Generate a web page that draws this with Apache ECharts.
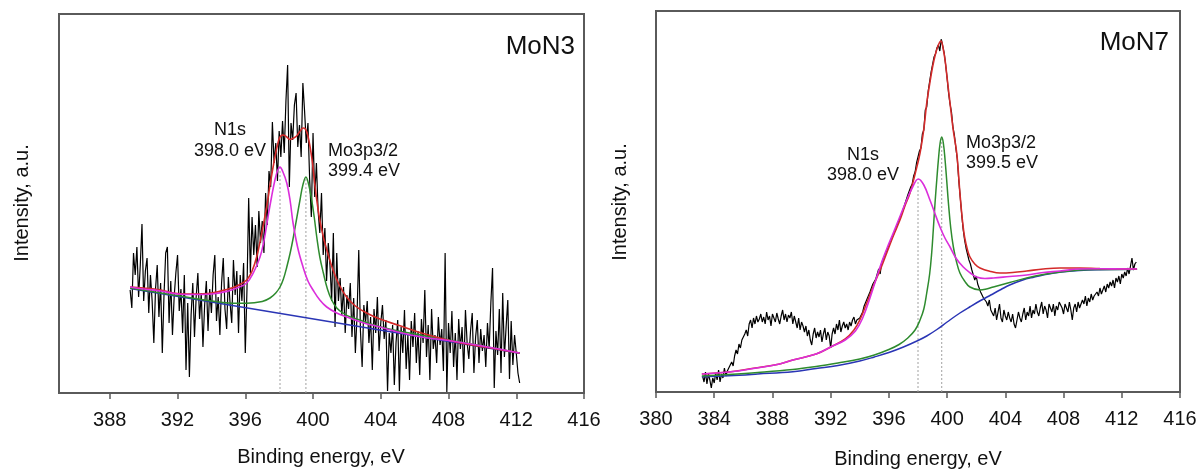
<!DOCTYPE html>
<html>
<head>
<meta charset="utf-8">
<script src="https://cdn.jsdelivr.net/npm/echarts@6/dist/echarts.min.js"></script>
<style>html,body{margin:0;padding:0;background:#fff}#c{width:1203px;height:472px}</style>
</head>
<body>
<div id="c"></div>
<script>
// ---------- MoN3 (left panel) ----------
const mon3Start = 389.2, mon3Step = 0.1;
const mon3Raw = [
103, 85, 140, 118, 146, 96, 128, 169, 92, 122,
135, 80, 118, 92, 50, 104, 128, 76, 110, 40,
98, 140, 146, 70, 112, 58, 96, 120, 138, 82,
104, 60, 118, 23, 90, 16, 78, 110, 56, 96,
120, 74, 100, 46, 88, 112, 62, 104, 80, 118,
138, 72, 96, 58, 110, 135, 84, 64, 116, 90,
70, 133, 98, 122, 60, 118, 92, 130, 40, 104,
195, 120, 176, 138, 168, 126, 182, 150, 172, 140,
200, 168, 222, 206, 271, 230, 250, 212, 262, 236,
272, 240, 292, 328, 206, 270, 253, 288, 300, 246,
268, 236, 310, 282, 250, 270, 214, 176, 260, 196,
230, 182, 160, 200, 138, 165, 112, 150, 128, 92,
160, 66, 140, 92, 115, 78, 106, 60, 98, 84,
110, 56, 95, 40, 78, 143, 62, 26, 88, 70,
92, 50, 76, 23, 84, 60, 96, 42, 70, 88,
54, 73, 2, 60, 40, 68, 8, 50, 73, 2,
66, 40, 83, 24, 58, 13, 72, 46, 80, 30,
62, 18, 74, 50, 103, 36, 68, 13, 84, 44,
58, 30, 76, 48, 64, 22, 140, 1, 70, 40,
82, 26, 60, 13, 74, 44, 66, 20, 83, 50,
34, 62, 80, 20, 56, 73, 30, 64, 42, 58,
26, 70, 44, 90, 125, 5, 62, 38, 84, 20,
100, 36, 66, 93, 14, 72, 28, 58, 40, 20,
10
];
const mon3Background = [[389.2,104.6],[412.2,39.7]];
const mon3N1s = [[389.2,106],[390,104],[391,102],[392,99],[393,98.5],[394,99],[395,102],[395.5,105],[396.08,110],[396.5,121],[396.87,136],[397.1,152],[397.34,176],[397.55,196],[397.75,213],[397.9,222],[398.05,226],[398.2,222],[398.45,210],[398.65,192],[398.82,170],[399.1,145],[399.41,126],[399.7,112],[400,103],[400.4,93],[400.81,86],[401.4,80],[402,76],[403,70],[403.95,66],[405,61],[406.4,56],[408,52.5],[410,47],[412.2,40]];
const mon3Mo = [[389.2,105],[390,102.8],[391,100],[392,97.5],[393,94.5],[394,92],[395,90],[396.08,89.7],[397,91.5],[397.46,95],[397.8,100],[398.05,106],[398.25,114],[398.45,126],[398.65,140],[398.84,156],[399.05,176],[399.23,193],[399.4,208],[399.58,216],[399.75,208],[399.92,193],[400.07,176],[400.22,156],[400.4,136],[400.61,120],[400.85,104],[401.1,93],[401.4,85],[401.77,80],[402.2,76],[402.77,73],[403.5,68.5],[404.5,64],[406,59],[408,53],[410,47],[412.2,40]];
const mon3Envelope = [[389.2,106],[390,105],[391,103],[392,99.5],[393,99],[394,100],[395,104],[395.5,107],[396.08,113],[396.4,122],[396.67,136],[396.95,158],[397.26,186],[397.5,212],[397.75,236],[397.9,248],[398.05,256],[398.23,258],[398.45,256],[398.64,253.5],[398.85,255],[399.03,257],[399.2,261],[399.41,265],[399.55,264],[399.7,257],[399.92,236],[400.07,214],[400.22,193],[400.4,173],[400.61,156],[400.9,138],[401.18,123],[401.55,108],[401.98,96],[402.5,87],[403.16,80],[403.95,74],[405,68],[406.4,60],[408.7,50],[410.5,45],[412.2,40]];
const mon3Peaks = [[398.05,226],[399.58,216]];
const mon3Ticks = [388,392,396,400,404,408,412,416];

// ---------- MoN7 (right panel) ----------
const mon7Start = 383.2, mon7Step = 0.1;
const mon7Raw = [
16, 10, 20, 8, 18, 12, 4, 14, 9, 19,
12, 22, 10, 18, 14, 24, 16, 21, 20, 27,
30, 26, 36, 42, 38, 48, 44, 52, 50, 58,
62, 56, 68, 72, 64, 74, 68, 76, 70, 73,
78, 70, 75, 68, 80, 72, 76, 66, 78, 74,
70, 79, 73, 68, 76, 82, 72, 78, 70, 77,
74, 80, 68, 76, 70, 64, 74, 62, 70, 66,
60, 66, 56, 62, 52, 47, 58, 64, 54, 60,
55, 62, 50, 58, 64, 52, 60, 56, 44, 58,
64, 58, 68, 62, 72, 60, 66, 70, 64, 68,
62, 70, 66, 72, 75, 68, 72, 70, 74, 76,
80, 86, 84, 93, 94, 100, 101, 108, 106, 113,
114, 123, 118, 129, 128, 136, 137, 143, 142, 150,
150, 157, 158, 164, 165, 172, 171, 179, 178, 188,
188, 197, 196, 205, 208, 216, 220, 229, 229, 241,
244, 258, 262, 282, 285, 301, 303, 320, 322, 335,
338, 344, 347, 341, 353, 346, 339, 327, 314, 299,
288, 280, 265, 257, 244, 233, 212, 195, 178, 163,
152, 144, 146, 132, 128, 122, 120, 112, 116, 108,
106, 100, 102, 94, 96, 90, 86, 92, 82, 80,
76, 84, 72, 80, 88, 74, 70, 82, 76, 72,
80, 74, 70, 78, 68, 64, 72, 80, 74, 70,
78, 84, 72, 80, 76, 86, 74, 82, 78, 88,
80, 76, 84, 90, 78, 86, 82, 74, 88, 84,
80, 88, 76, 86, 82, 90, 92, 84, 78, 88,
86, 80, 90, 82, 72, 84, 88, 80, 90, 84,
85, 92, 88, 96, 86, 94, 90, 98, 92, 96,
94, 100, 96, 104, 98, 102, 106, 100, 108, 104,
110, 106, 112, 104, 114, 110, 116, 108, 118, 114,
120, 116, 124, 118, 126, 134, 122, 128, 130
];
const mon7Background = [[383.15,15.3],[385,16.3],[387,18],[389.4,20.3],[391,23.5],[392.5,26.5],[394,31],[395,35],[396,39.5],[397,45],[398,51.5],[398.6,56],[399.3,62.5],[400,70],[400.88,79],[401.6,85.5],[402.3,91.5],[403,97],[403.7,102.5],[404.3,107],[405.2,112],[406,115],[406.6,117],[407.86,120],[409.1,121.5],[410.5,122.2],[413.05,122.7]];
const mon7Mo = [[383.15,16],[385,17.5],[387,19.5],[389.4,22.5],[391,25.5],[392.5,29],[394,33],[395,37],[396,42.5],[396.7,47.5],[397.3,54],[397.8,62],[398.14,72],[398.4,83],[398.6,99],[398.8,118],[398.94,139],[399.05,162],[399.17,189],[399.3,214],[399.4,232],[399.52,249],[399.63,255],[399.74,249],[399.86,232],[399.97,212],[400.09,189],[400.25,164],[400.43,145],[400.65,130],[400.88,119],[401.2,111],[401.57,105],[402.26,102],[402.7,103],[403.18,105],[404.3,109.5],[405.47,114],[406.6,117.5],[407.75,120],[409.1,122],[410.5,122.5],[413.05,122.7]];
const mon7N1s = [[383.15,18],[385,20],[386.7,23.5],[388.5,28],[389.4,32],[391,38],[392,45],[393,52],[393.7,61],[394.2,74],[394.7,94],[395.39,125],[395.85,143],[396.3,159],[396.8,177],[397.22,192],[397.6,204],[398.02,213],[398.4,207],[398.82,192],[399.15,179],[399.51,165],[399.85,154],[400.2,145],[400.6,134],[401.11,125],[401.6,119],[402.03,115],[402.6,113.5],[403.18,114],[404.3,115.5],[405.47,117],[406.6,119.5],[407.75,121],[409.1,123],[410.5,123.2],[413.05,123]];
const mon7Envelope = [[383.15,18],[385,20],[386.7,23.7],[388.5,28],[389.4,32],[391,38],[392,45],[393,53],[393.6,62],[394.0,72],[394.45,88],[394.9,105],[395.4,122],[395.85,139],[396.3,156],[396.76,172],[397.1,186],[397.45,199],[397.8,218],[398.14,239],[398.4,263],[398.6,289],[398.8,308],[399.0,325],[399.2,338],[399.4,347],[399.58,351],[399.72,344],[399.86,332],[400.0,314],[400.2,289],[400.42,262],[400.66,239],[400.88,199],[401.05,172],[401.2,155],[401.4,142],[401.57,135],[401.9,128],[402.26,124],[403,120.5],[403.63,119],[404.5,119.5],[405.47,121],[406.6,123],[407.75,124],[409.1,124],[410.5,123.5],[413.05,123]];
const mon7Peaks = [[398.0,213],[399.63,255]];

// ---------- texts ----------
const FONT = '"Liberation Sans", Arial, Helvetica, sans-serif';
const xTitle = 'Binding energy, eV';
const yTitle = 'Intensity, a.u.';

function toPairs(start, step, vals) {
  return vals.map((v, i) => [+(start + i * step).toFixed(2), v]);
}

const COLORS = { raw: '#000000', env: '#d42a2a', n1s: '#db2edb', mo: '#2e8b2e', bg: '#2a35b5', drop: '#a0a0a0' };

function panelSeries(idx, raw, bg, mo, n1s, env, peaks) {
  const base = { type: 'line', xAxisIndex: idx, yAxisIndex: idx, showSymbol: false, symbol: 'none', silent: true };
  const s = [];
  peaks.forEach(p => {
    s.push(Object.assign({}, base, { data: [[p[0], 0], [p[0], p[1]]], lineStyle: { color: COLORS.drop, width: 1, type: [2, 2] } }));
  });
  s.push(Object.assign({}, base, { data: raw, lineStyle: { color: COLORS.raw, width: 1.2 } }));
  s.push(Object.assign({}, base, { data: bg, smooth: 0.4, lineStyle: { color: COLORS.bg, width: 1.5 } }));
  s.push(Object.assign({}, base, { data: mo, smooth: 0.4, lineStyle: { color: COLORS.mo, width: 1.5 } }));
  s.push(Object.assign({}, base, { data: env, smooth: 0.4, lineStyle: { color: COLORS.env, width: 1.6 } }));
  s.push(Object.assign({}, base, { data: n1s, smooth: 0.4, lineStyle: { color: COLORS.n1s, width: 1.6 } }));
  return s;
}

function xAxisCfg(idx, min, max, ticks) {
  const c = {
    type: 'value', gridIndex: idx, min: min, max: max,
    axisLine: { show: true, onZero: false, lineStyle: { color: '#5a5a5a', width: 2 } },
    axisTick: { show: true, inside: false, length: 6, lineStyle: { color: '#5a5a5a', width: 1.5 } },
    axisLabel: { show: true, color: '#111', fontSize: 20, fontFamily: FONT, margin: 17, showMaxLabel: true, showMinLabel: true },
    splitLine: { show: false }
  };
  if (ticks) {
    c.axisTick.customValues = ticks;
    c.axisLabel.customValues = ticks;
  } else {
    c.interval = 4;
  }
  return c;
}
function yAxisCfg(idx, max) {
  return { type: 'value', gridIndex: idx, min: 0, max: max, axisLine: { show: false }, axisTick: { show: false }, axisLabel: { show: false }, splitLine: { show: false } };
}

function txt(text, x, y, size, align, rot) {
  return { type: 'text', x: x, y: y, rotation: rot || 0, silent: true,
    style: { text: text, fill: '#111', font: size + 'px ' + FONT, textAlign: align || 'center', textVerticalAlign: 'middle' } };
}

const chart = echarts.init(document.getElementById('c'), null, { renderer: 'canvas' });
chart.setOption({
  animation: false,
  backgroundColor: '#ffffff',
  grid: [
    { left: 59, top: 14, width: 525, height: 379, show: true, borderColor: '#5a5a5a', borderWidth: 2, backgroundColor: 'transparent', containLabel: false },
    { left: 656, top: 11, width: 524, height: 381, show: true, borderColor: '#5a5a5a', borderWidth: 2, backgroundColor: 'transparent', containLabel: false }
  ],
  xAxis: [xAxisCfg(0, 385, 416, mon3Ticks), xAxisCfg(1, 380, 416, null)],
  yAxis: [yAxisCfg(0, 379), yAxisCfg(1, 381)],
  series: [].concat(
    panelSeries(0, toPairs(mon3Start, mon3Step, mon3Raw), mon3Background, mon3Mo, mon3N1s, mon3Envelope, mon3Peaks),
    panelSeries(1, toPairs(mon7Start, mon7Step, mon7Raw), mon7Background, mon7Mo, mon7N1s, mon7Envelope, mon7Peaks)
  ),
  graphic: [
    txt(yTitle, 22, 203, 20, 'center', Math.PI / 2),
    txt(yTitle, 620, 202, 20, 'center', Math.PI / 2),
    txt(xTitle, 321, 457, 20, 'center'),
    txt(xTitle, 918, 459, 20, 'center'),
    txt('MoN3', 575, 47, 26, 'right'),
    txt('MoN7', 1169, 43, 26, 'right'),
    txt('N1s', 230, 130, 18, 'center'),
    txt('398.0 eV', 230, 151, 18, 'center'),
    txt('Mo3p3/2', 328, 151, 18, 'left'),
    txt('399.4 eV', 328, 171, 18, 'left'),
    txt('N1s', 863, 155, 18, 'center'),
    txt('398.0 eV', 863, 175, 18, 'center'),
    txt('Mo3p3/2', 966, 143, 18, 'left'),
    txt('399.5 eV', 966, 163, 18, 'left')
  ]
});
</script>
</body>
</html>
